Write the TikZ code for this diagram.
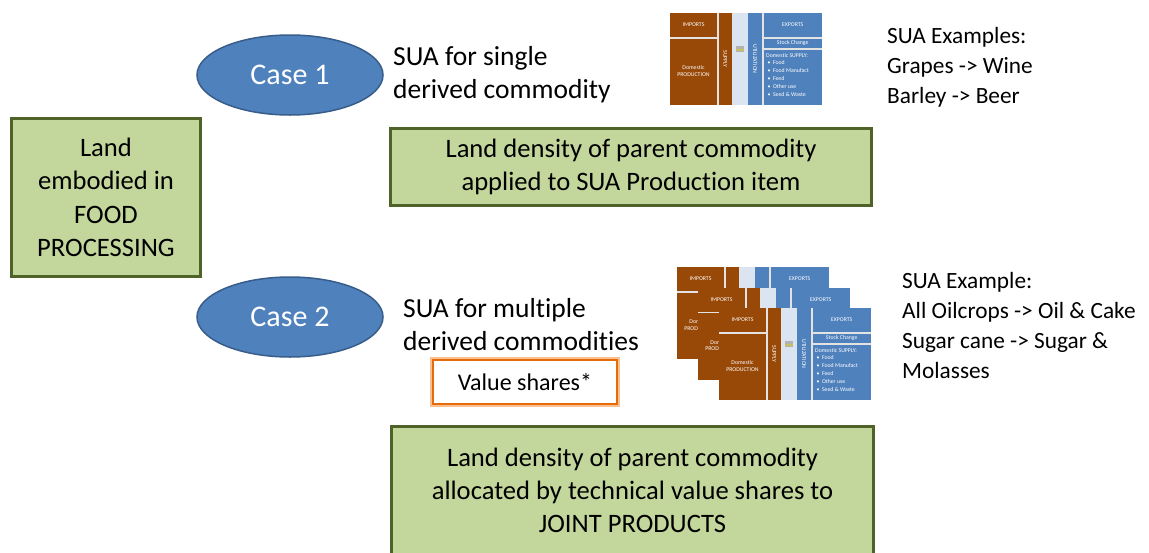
\documentclass[tikz,border=0pt]{standalone}
\usepackage{fontspec}
\setmainfont[Ligatures=NoCommon]{Carlito}
\usetikzlibrary{shapes.geometric}
\definecolor{boxgreen}{HTML}{C3D69B}
\definecolor{boxedge}{HTML}{4F6228}
\definecolor{caseblue}{HTML}{4F81BD}
\definecolor{caseedge}{HTML}{385D8A}
\definecolor{suabrown}{HTML}{984807}
\definecolor{sualight}{HTML}{DBE5F1}
\definecolor{suagap}{HTML}{E3E3E3}
\definecolor{orangedark}{HTML}{E46C0A}
\definecolor{orangelight}{HTML}{FAC08F}
\def\tw{152}
\def\th{92}

\tikzset{
  landbox/.style={draw=boxedge, fill=boxgreen, line width=3pt, align=center, inner sep=0pt,
                  font=\fontsize{26.6}{33.5}\selectfont},
  caseoval/.style={ellipse, draw=caseedge, fill=caseblue, line width=1.5pt, text=white,
                   minimum width=186, minimum height=80, font=\fontsize{30}{36}\selectfont},
  suatext/.style={align=left, inner sep=0pt, anchor=base west, font=\fontsize{27.5}{33}\selectfont},
  extext/.style={align=left, inner sep=0pt, anchor=base west, font=\fontsize{23.3}{29.7}\selectfont},
  valbox/.style={draw=orangedark, line width=1.8pt, fill=white, minimum width=184, minimum height=44,
                 preaction={draw=orangelight, line width=6.5pt}, font=\fontsize{24}{28}\selectfont},
  tinytxt/.style={text=white, inner sep=0pt, align=center, font=\fontsize{5.8}{6.4}\selectfont},
  listtxt/.style={text=white, inner sep=0pt, align=left, anchor=north west, font=\fontsize{5.8}{7.8}\selectfont}
}

% one SUA sheet, #1 = top left corner, #2 = name prefix, #3 = 1 for a sheet on top
\newcommand{\suatab}[3]{%
\begin{scope}[shift={(#1)}, name prefix=#2-]
  \fill[suagap] (0,0) rectangle (\tw,\th);
  \fill[suabrown] (0,0) rectangle (47,24);
  \fill[suabrown] (0,25.5) rectangle (47,\th);
  \fill[suabrown] (48.5,0) rectangle (62,\th);
  \fill[sualight] (62.5,0) rectangle (77.5,\th);
  \fill[caseblue] (78,0) rectangle (92,\th);
  \fill[caseblue] (93.5,0) rectangle (\tw,24);
  \fill[caseblue] (93.5,25.5) rectangle (\tw,35);
  \fill[caseblue] (93.5,36.5) rectangle (\tw,\th);
  \node[tinytxt] (imp) at (23.5,12) {IMPORTS};
  \node[tinytxt] (exp) at (122.75,12) {EXPORTS};
  \ifnum#3=1
  \fill[gray!60] (66,33) rectangle (74,39);
  \fill[yellow!50!gray] (66,36) rectangle (74,37.5);
  \node[tinytxt] (prod) at (23.5,58) {Domestic\\PRODUCTION};
  \node[tinytxt, rotate=-90] (sup) at (55.25,46) {SUPPLY};
  \node[tinytxt, rotate=-90] (util) at (85,46) {UTILIZATION};
  \node[tinytxt] (stock) at (122.75,30.25) {Stock Change};
  \node[listtxt] (dom) at (96,40) {Domestic SUPPLY:\\
    \ \textbullet\ \ Food\\ \ \textbullet\ \ Food Manufact\\ \ \textbullet\ \ Feed\\
    \ \textbullet\ \ Other use\\ \ \textbullet\ \ Seed \& Waste};
  \else
  \begin{scope}
    \clip (0,25.5) rectangle (20.5,\th);
    \node[tinytxt] (prod) at (23.5,58) {Domestic\\PRODUCTION};
  \end{scope}
  \fi
\end{scope}}

\begin{document}
\begin{tikzpicture}[x=1pt, y=-1pt]
\useasboundingbox (0,0) rectangle (1149,552);

\node[landbox, minimum width=189, minimum height=158] (land) at (106,197.5)
  {Land\\embodied in\\FOOD\\PROCESSING};

% case 1
\node[caseoval] (case1) at (290,75) {Case 1};
\node[suatext] (single) at (393,98) {SUA for single\\derived commodity};
\suatab{670,13}{sheet}{1}
\node[extext] (ex1) at (887,103) {SUA Examples:\\Grapes -> Wine\\Barley -> Beer};
\node[landbox, minimum width=481, minimum height=77] (applied) at (631,167)
  {Land density of parent commodity\\applied to SUA Production item};

% case 2
\node[caseoval] (case2) at (290,317) {Case 2};
\node[suatext] (multi) at (403,350) {SUA for multiple\\derived commodities};
\node[valbox] (shares) at (525,382) {Value shares*};
\suatab{677,267}{stack0}{0}
\suatab{698,287.5}{stack1}{0}
\suatab{719,308}{stack2}{1}
\node[extext] (ex2) at (902,378) {SUA Example:\\All Oilcrops -> Oil \& Cake\\Sugar cane -> Sugar \&\\Molasses};
\node[landbox, minimum width=482, minimum height=150] (jointbox) at (632.5,501.5) {};
\node[align=center, inner sep=0pt, font=\fontsize{26.6}{33}\selectfont] (joint) at (632.5,490)
  {Land density of parent commodity\\allocated by technical value shares to\\JOINT PRODUCTS};

\end{tikzpicture}
\end{document}
